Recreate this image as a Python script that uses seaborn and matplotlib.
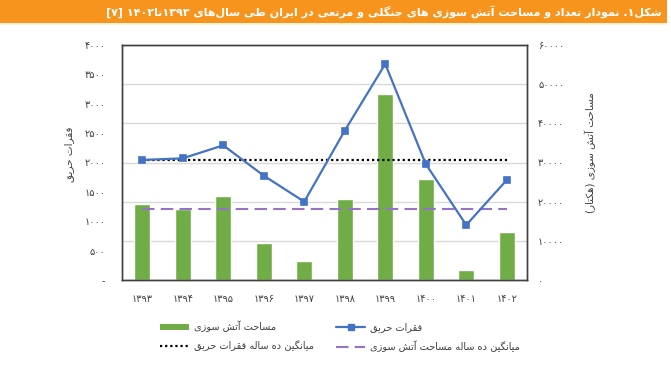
import numpy as np
import pandas as pd
import matplotlib
matplotlib.use("Agg")
import matplotlib.pyplot as plt
from matplotlib.patches import Rectangle, Patch
from matplotlib.lines import Line2D
import seaborn as sns

# ---------------- data ----------------
years = ["۱۳۹۳", "۱۳۹۴", "۱۳۹۵", "۱۳۹۶", "۱۳۹۷", "۱۳۹۸", "۱۳۹۹", "۱۴۰۰", "۱۴۰۱", "۱۴۰۲"]
fire_counts = [2043, 2071, 2292, 1776, 1333, 2542, 3677, 1974, 936, 1702]
burned_area = [19400, 18050, 21450, 9450, 4770, 20700, 47500, 25700, 2550, 12250]
left_ticks = [0, 500, 1000, 1500, 2000, 2500, 3000, 3500, 4000]
left_tick_labels = ["-", "۵۰۰", "۱۰۰۰", "۱۵۰۰", "۲۰۰۰", "۲۵۰۰", "۳۰۰۰", "۳۵۰۰", "۴۰۰۰"]
right_ticks = [0, 10000, 20000, 30000, 40000, 50000, 60000]
right_tick_labels = ["۰", "۱۰۰۰۰", "۲۰۰۰۰", "۳۰۰۰۰", "۴۰۰۰۰", "۵۰۰۰۰", "۶۰۰۰۰"]

title = "شکل۱. نمودار تعداد و مساحت آتش سوزی های جنگلی و مرتعی در ایران طی سال‌های ۱۳۹۳تا۱۴۰۲ [۷]"
left_label = "فقرات حریق"
right_label = "مساحت آتش سوزی (هکتار)"
lbl_area = "مساحت آتش سوزی"
lbl_count = "فقرات حریق"
lbl_avg_count = "میانگین ده ساله فقرات حریق"
lbl_avg_area = "میانگین ده ساله مساحت آتش سوزی"

# ---------------- persian shaping ----------------
FORMS = {
    '\u0622': ('\uFE81', '\uFE82', None, None),
    '\u0627': ('\uFE8D', '\uFE8E', None, None),
    '\u0628': ('\uFE8F', '\uFE90', '\uFE91', '\uFE92'),
    '\u067E': ('\uFB56', '\uFB57', '\uFB58', '\uFB59'),
    '\u062A': ('\uFE95', '\uFE96', '\uFE97', '\uFE98'),
    '\u062B': ('\uFE99', '\uFE9A', '\uFE9B', '\uFE9C'),
    '\u062C': ('\uFE9D', '\uFE9E', '\uFE9F', '\uFEA0'),
    '\u0686': ('\uFB7A', '\uFB7B', '\uFB7C', '\uFB7D'),
    '\u062D': ('\uFEA1', '\uFEA2', '\uFEA3', '\uFEA4'),
    '\u062E': ('\uFEA5', '\uFEA6', '\uFEA7', '\uFEA8'),
    '\u062F': ('\uFEA9', '\uFEAA', None, None),
    '\u0630': ('\uFEAB', '\uFEAC', None, None),
    '\u0631': ('\uFEAD', '\uFEAE', None, None),
    '\u0632': ('\uFEAF', '\uFEB0', None, None),
    '\u0698': ('\uFB8A', '\uFB8B', None, None),
    '\u0633': ('\uFEB1', '\uFEB2', '\uFEB3', '\uFEB4'),
    '\u0634': ('\uFEB5', '\uFEB6', '\uFEB7', '\uFEB8'),
    '\u0635': ('\uFEB9', '\uFEBA', '\uFEBB', '\uFEBC'),
    '\u0636': ('\uFEBD', '\uFEBE', '\uFEBF', '\uFEC0'),
    '\u0637': ('\uFEC1', '\uFEC2', '\uFEC3', '\uFEC4'),
    '\u0638': ('\uFEC5', '\uFEC6', '\uFEC7', '\uFEC8'),
    '\u0639': ('\uFEC9', '\uFECA', '\uFECB', '\uFECC'),
    '\u063A': ('\uFECD', '\uFECE', '\uFECF', '\uFED0'),
    '\u0641': ('\uFED1', '\uFED2', '\uFED3', '\uFED4'),
    '\u0642': ('\uFED5', '\uFED6', '\uFED7', '\uFED8'),
    '\u06A9': ('\uFB8E', '\uFB8F', '\uFB90', '\uFB91'),
    '\u06AF': ('\uFB92', '\uFB93', '\uFB94', '\uFB95'),
    '\u0644': ('\uFEDD', '\uFEDE', '\uFEDF', '\uFEE0'),
    '\u0645': ('\uFEE1', '\uFEE2', '\uFEE3', '\uFEE4'),
    '\u0646': ('\uFEE5', '\uFEE6', '\uFEE7', '\uFEE8'),
    '\u0647': ('\uFEE9', '\uFEEA', '\uFEEB', '\uFEEC'),
    '\u0648': ('\uFEED', '\uFEEE', None, None),
    '\u06CC': ('\uFBFC', '\uFBFD', '\uFBFE', '\uFBFF'),
}
LTR = set('0123456789۰۱۲۳۴۵۶۷۸۹')
MIRROR = {'(': ')', ')': '(', '[': ']', ']': '['}


def _shape(s):
    out = []
    n = len(s)
    for i, c in enumerate(s):
        if c not in FORMS:
            out.append(c)
            continue
        f = FORMS[c]
        prev = s[i - 1] if i > 0 else ''
        nxt = s[i + 1] if i + 1 < n else ''
        pj = prev in FORMS and FORMS[prev][2] is not None
        nj = f[2] is not None and nxt in FORMS
        if pj and nj:
            out.append(f[3])
        elif pj:
            out.append(f[1])
        elif nj:
            out.append(f[2])
        else:
            out.append(f[0])
    return ''.join(out).replace('\u200c', '')


def fa(s):
    s = _shape(s)
    tokens = []
    for c in s:
        is_ltr = c in LTR
        if tokens and tokens[-1][0] == is_ltr:
            tokens[-1][1].append(c)
        else:
            tokens.append([is_ltr, [c]])
    res = []
    for is_ltr, chars in reversed(tokens):
        if is_ltr:
            res.append(''.join(chars))
        else:
            res.append(''.join(MIRROR.get(c, c) for c in reversed(chars)))
    return ''.join(res)


# ---------------- style ----------------
sns.set_style("white")
plt.rcParams['font.family'] = ['DejaVu Sans']

BAR = '#70AD47'
LINE = '#4472C4'
PURPLE = '#9673C4'
TXT = '#404040'

W, H = 671, 372
fig = plt.figure(figsize=(W / 100, H / 100), dpi=100)
ax = fig.add_axes([122 / W, 1 - 280 / H, (527 - 122) / W, (280 - 45) / H])
ax2 = ax.twinx()

df = pd.DataFrame({"year": years, "count": fire_counts, "area": burned_area})

# bars (area) on ax, ticks on the right
sns.barplot(data=df, x="year", y="area", order=years, color=BAR, width=0.4,
            saturation=1, ax=ax, zorder=2)
ax.set_ylim(0, 60000)
ax.set_yticks(right_ticks)
ax.set_yticklabels(right_tick_labels)
ax.yaxis.tick_right()
ax.set_axisbelow(True)
ax.yaxis.grid(True, color='#d9d9d9', lw=1)
ax.xaxis.grid(False)
area_mean = float(np.mean(burned_area))
ax.hlines(area_mean, 0, len(years) - 1, colors=PURPLE, linestyles=(0, (6, 3)),
          lw=1.5, zorder=3)

# line (count) on ax2, ticks on left
sns.pointplot(data=df, x="year", y="count", order=years, color=LINE, markers='s',
              markersize=4.5, linewidth=1.6, ax=ax2, zorder=5)
ax2.set_ylim(0, 4000)
ax2.set_yticks(left_ticks)
ax2.set_yticklabels(left_tick_labels)
ax2.yaxis.tick_left()
count_mean = float(np.mean(fire_counts))
ax2.hlines(count_mean, 0, len(years) - 1, colors='black', linestyles=(0, (1, 1.3)),
           lw=1.6, zorder=4)
ax2.set_xlim(-0.5, len(years) - 0.5)

for a in (ax, ax2):
    a.set_xlabel("")
    a.set_ylabel("")
    a.tick_params(axis='both', length=0, labelsize=7, colors=TXT)
    for sp in a.spines.values():
        sp.set_visible(True)
        sp.set_color('#404040')
        sp.set_linewidth(1.0)
ax.tick_params(axis='x', pad=10)
ax.tick_params(axis='y', pad=8)
ax2.tick_params(axis='y', pad=12)

# axis labels
fig.text(69 / W, 1 - 154 / H, fa(left_label), rotation=90, ha='center', va='center',
         fontsize=7.5, color=TXT)
fig.text(590 / W, 1 - 153 / H, fa(right_label), rotation=90, ha='center', va='center',
         fontsize=7.5, color=TXT)

# title bar
fig.patches.append(Rectangle((0, 1 - 23 / H), 667 / W, 23 / H, transform=fig.transFigure,
                             facecolor='#F7941D', edgecolor='none', zorder=0))
fig.patches.append(Rectangle((0, 1 - 25 / H), 667 / W, 2 / H, transform=fig.transFigure,
                             facecolor='#FDF1D6', edgecolor='none', zorder=0))
fig.text(662 / W, 1 - 11.5 / H, fa(title), ha='right', va='center', fontsize=8,
         color='white', fontweight='bold')

# legend
handles = [
    Patch(facecolor=BAR, edgecolor='none'),
    Line2D([0], [0], color='black', lw=1.6, linestyle=(0, (1, 1.3))),
    Line2D([0], [0], color=LINE, lw=1.6, marker='s', markersize=4.5),
    Line2D([0], [0], color=PURPLE, lw=1.5, linestyle=(0, (6, 3))),
]
labels = [fa(lbl_area), fa(lbl_avg_count), fa(lbl_count), fa(lbl_avg_area)]
fig.legend(handles, labels, ncol=2, loc='upper left', bbox_to_anchor=(155 / W, 1 - 316 / H),
           frameon=False, fontsize=7, handlelength=3.0, handleheight=0.5,
           handletextpad=0.5, columnspacing=2.3, labelspacing=0.85, borderpad=0,
           labelcolor=TXT)

fig.savefig("out.png", dpi=100, facecolor='white')
